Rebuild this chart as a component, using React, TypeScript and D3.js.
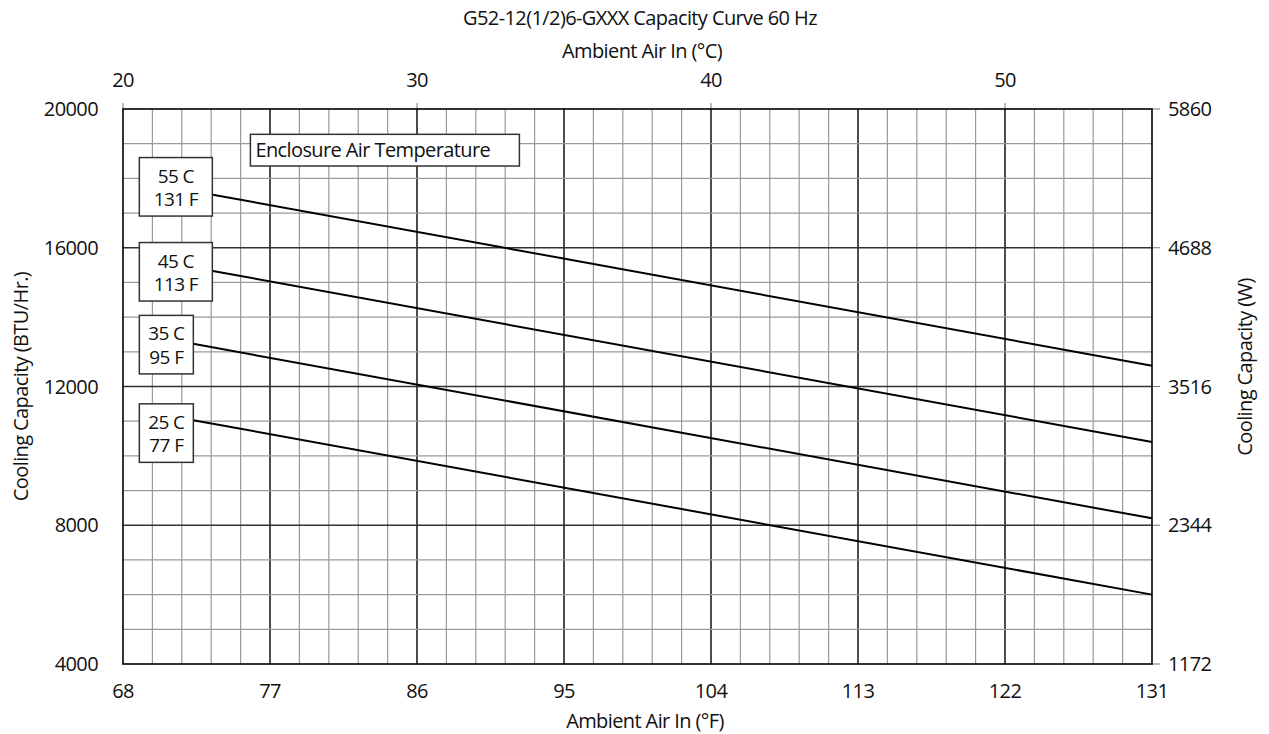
import { scaleLinear, range, line } from "d3";

// chart values
const fTicks = [68, 77, 86, 95, 104, 113, 122, 131];
const cTicks = [20, 30, 40, 50];
const btuTicks = [4000, 8000, 12000, 16000, 20000];
const wattTicks = [1172, 2344, 3516, 4688, 5860];

// each curve runs from the edge of its label box to 131 °F
const f55 = [73.5, 131];
const cap55 = [17530, 12600];
const f45 = [73.5, 131];
const cap45 = [15330, 10400];
const f35 = [72.3, 131];
const cap35 = [13230, 8200];
const f25 = [72.3, 131];
const cap25 = [11030, 6000];

const labelC = ["55 C", "45 C", "35 C", "25 C"];
const labelF = ["131 F", "113 F", "95 F", "77 F"];
// top-left corner of each label box, in chart units (°F, BTU/Hr.)
const labelAtF = [69, 69, 69, 69];
const labelAtBtu = [18600, 16150, 14050, 11500];

const W = 1269;
const H = 734;
const left = 123;
const right = 1152;
const top = 109;
const bottom = 664;

const font = "'Open Sans', sans-serif";
const ink = "#111";

export default function App() {
  const x = scaleLinear().domain([68, 131]).range([left, right]);
  const xC = scaleLinear().domain([20, 55]).range([left, right]);
  const y = scaleLinear().domain([4000, 20000]).range([bottom, top]);
  const yW = scaleLinear().domain([1172, 5860]).range([bottom, top]);

  const series = [
    { f: f55, v: cap55 },
    { f: f45, v: cap45 },
    { f: f35, v: cap35 },
    { f: f25, v: cap25 },
  ];

  const boxW = [73, 73, 54, 54];
  const boxH = 58.5;

  const txt = {
    fontFamily: font,
    fontSize: 20,
    letterSpacing: -0.6,
    fill: ink,
  } as const;

  return (
    <svg
      width={W}
      height={H}
      style={{ position: "absolute", left: 0, top: 0, background: "#fff" }}
    >
      {/* grid */}
      {range(21, 55).map((c) => (
        <line
          key={"vc" + c}
          x1={xC(c)}
          x2={xC(c)}
          y1={top}
          y2={bottom}
          stroke={(c - 20) % 5 === 0 ? "#000" : "#9a9a9a"}
          strokeWidth={(c - 20) % 5 === 0 ? 1.4 : 1.2}
        />
      ))}
      {range(5000, 20000, 1000).map((v) => (
        <line
          key={"h" + v}
          x1={left}
          x2={right}
          y1={y(v)}
          y2={y(v)}
          stroke={v % 4000 === 0 ? "#333" : "#9a9a9a"}
          strokeWidth={v % 4000 === 0 ? 1.6 : 1.2}
        />
      ))}

      {/* right ticks */}
      {wattTicks.map((w) => (
        <line key={"rt" + w} x1={right} x2={right + 8} y1={yW(w)} y2={yW(w)} stroke="#777" strokeWidth={1} />
      ))}
      {/* top ticks */}
      {cTicks.map((c) => (
        <line key={"tt" + c} x1={xC(c)} x2={xC(c)} y1={top - 6} y2={top} stroke="#777" strokeWidth={1} />
      ))}

      {/* frame */}
      <rect x={left} y={top} width={right - left} height={bottom - top} fill="none" stroke="#000" strokeWidth={1.6} />

      {/* capacity lines */}
      {series.map((s, i) => {
        const path = line<number>()
          .x((_, j) => x(s.f[j]))
          .y((d) => y(d));
        return <path key={"s" + i} d={path(s.v) ?? ""} fill="none" stroke="#000" strokeWidth={2} />;
      })}

      {/* series labels */}
      {labelC.map((c, i) => {
        const bx = x(labelAtF[i]);
        const by = y(labelAtBtu[i]);
        const cx = bx + boxW[i] / 2;
        return (
          <g key={"lb" + i}>
            <rect x={bx} y={by} width={boxW[i]} height={boxH} fill="#fff" stroke="#333" strokeWidth={1.5} />
            <text {...txt} fontSize={19} x={cx} y={by + 25} textAnchor="middle">{c}</text>
            <text {...txt} fontSize={19} x={cx} y={by + 48.5} textAnchor="middle">{labelF[i]}</text>
          </g>
        );
      })}

      {/* legend title box */}
      <rect x={x(75.8)} y={y(19270)} width={269} height={31.7} fill="#fff" stroke="#333" strokeWidth={1.5} />
      <text {...txt} x={x(75.8) + 5} y={y(19270) + 22.4}>Enclosure Air Temperature</text>

      {/* axis labels */}
      {btuTicks.map((v) => (
        <text key={"lt" + v} {...txt} x={98} y={y(v) + 7} textAnchor="end">{v}</text>
      ))}
      {wattTicks.map((w) => (
        <text key={"rl" + w} {...txt} x={1168} y={yW(w) + 7}>{w}</text>
      ))}
      {fTicks.map((f) => (
        <text key={"bl" + f} {...txt} x={x(f)} y={698} textAnchor="middle">{f}</text>
      ))}
      {cTicks.map((c) => (
        <text key={"tl" + c} {...txt} x={xC(c)} y={87} textAnchor="middle">{c}</text>
      ))}

      {/* titles */}
      <text {...txt} x={640} y={25} textAnchor="middle">G52-12(1/2)6-GXXX Capacity Curve 60 Hz</text>
      <text {...txt} x={642} y={58} textAnchor="middle">Ambient Air In (°C)</text>
      <text {...txt} x={645} y={728} textAnchor="middle">Ambient Air In (°F)</text>
      <text {...txt} transform={`translate(28,${(top + bottom) / 2}) rotate(-90)`} textAnchor="middle">
        Cooling Capacity (BTU/Hr.)
      </text>
      <text {...txt} transform={`translate(1252,367) rotate(-90)`} textAnchor="middle">
        Cooling Capacity (W)
      </text>
    </svg>
  );
}
